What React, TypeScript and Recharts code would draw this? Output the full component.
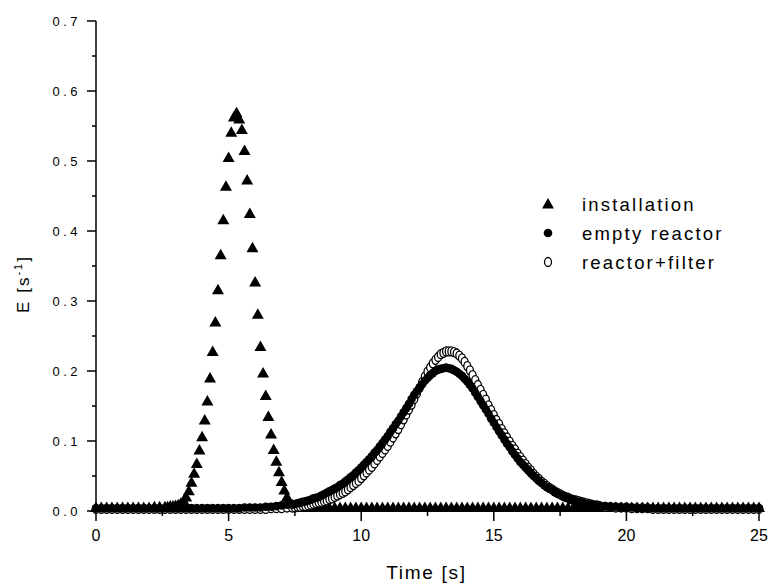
import { Legend, Scatter, ScatterChart, XAxis, YAxis } from "recharts";

// time grids (s)
const installationTime = [
  0, 0.2, 0.4, 0.6, 0.8, 1.0, 1.2, 1.4, 1.6, 1.8, 2.0, 2.2, 2.4, 2.6,
  2.7, 2.8, 2.9, 3.0, 3.1, 3.2, 3.3, 3.4, 3.5, 3.6, 3.7, 3.8, 3.9,
  4.0, 4.1, 4.2, 4.3, 4.4, 4.5, 4.6, 4.7, 4.8, 4.9,
  5.0, 5.1, 5.2, 5.3, 5.4, 5.5, 5.6, 5.7, 5.8, 5.9,
  6.0, 6.1, 6.2, 6.3, 6.4, 6.5, 6.6, 6.7, 6.8, 6.9,
  7.0, 7.1, 7.2, 7.3, 7.4, 7.5, 7.6,
  7.8, 8.0, 8.2, 8.4, 8.6, 8.8, 9.0, 9.2, 9.4, 9.6, 9.8,
  10.0, 10.2, 10.4, 10.6, 10.8, 11.0, 11.2, 11.4, 11.6, 11.8,
  12.0, 12.2, 12.4, 12.6, 12.8, 13.0, 13.2, 13.4, 13.6, 13.8,
  14.0, 14.2, 14.4, 14.6, 14.8, 15.0, 15.2, 15.4, 15.6, 15.8,
  16.0, 16.2, 16.4, 16.6, 16.8, 17.0, 17.2, 17.4, 17.6, 17.8,
  18.0, 18.2, 18.4, 18.6, 18.8, 19.0, 19.2, 19.4, 19.6, 19.8,
  20.0, 20.2, 20.4, 20.6, 20.8, 21.0, 21.2, 21.4, 21.6, 21.8,
  22.0, 22.2, 22.4, 22.6, 22.8, 23.0, 23.2, 23.4, 23.6, 23.8,
  24.0, 24.2, 24.4, 24.6, 24.8, 25.0,
];

const installationE = [
  0.005, 0.005, 0.005, 0.005, 0.005, 0.005, 0.005, 0.005, 0.005, 0.005, 0.005, 0.006, 0.006, 0.006,
  0.006, 0.007, 0.007, 0.008, 0.009, 0.011, 0.015, 0.020, 0.029, 0.041, 0.054, 0.068, 0.087,
  0.106, 0.130, 0.157, 0.190, 0.228, 0.270, 0.316, 0.366, 0.416, 0.464,
  0.505, 0.541, 0.563, 0.569, 0.560, 0.545, 0.515, 0.473, 0.425, 0.376,
  0.327, 0.281, 0.235, 0.197, 0.165, 0.135, 0.110, 0.088, 0.071, 0.056,
  0.042, 0.030, 0.020, 0.013, 0.009, 0.007, 0.006,
  0.005, 0.005, 0.005, 0.005, 0.005, 0.005, 0.005, 0.005, 0.005, 0.005, 0.005,
  0.005, 0.005, 0.005, 0.005, 0.005, 0.005, 0.005, 0.005, 0.005, 0.005,
  0.005, 0.005, 0.005, 0.005, 0.005, 0.005, 0.005, 0.005, 0.005, 0.005,
  0.005, 0.005, 0.005, 0.005, 0.005, 0.005, 0.005, 0.005, 0.005, 0.005,
  0.005, 0.005, 0.005, 0.005, 0.005, 0.005, 0.005, 0.005, 0.005, 0.005,
  0.005, 0.005, 0.005, 0.005, 0.005, 0.005, 0.005, 0.005, 0.005, 0.005,
  0.005, 0.005, 0.005, 0.005, 0.005, 0.005, 0.005, 0.005, 0.005, 0.005,
  0.005, 0.005, 0.005, 0.005, 0.005, 0.005, 0.005, 0.005, 0.005, 0.005,
  0.005, 0.005, 0.005, 0.005, 0.005, 0.005,
];

const reactorTime = [
  0, 0.2, 0.4, 0.6, 0.8, 1.0, 1.2, 1.4, 1.6, 1.8, 2.0, 2.2, 2.4, 2.6, 2.8,
  3.0, 3.2, 3.4, 3.6, 3.8, 4.0, 4.2, 4.4, 4.6, 4.8, 5.0, 5.2, 5.4,
  5.6, 5.8, 6.0, 6.2, 6.4, 6.6, 6.8, 7.0, 7.2, 7.4,
  7.5, 7.6, 7.7, 7.8, 7.9,
  8.0, 8.1, 8.2, 8.3, 8.4, 8.5, 8.6, 8.7, 8.8, 8.9,
  9.0, 9.1, 9.2, 9.3, 9.4, 9.5, 9.6, 9.7, 9.8, 9.9,
  10.0, 10.1, 10.2, 10.3, 10.4, 10.5, 10.6, 10.7, 10.8, 10.9,
  11.0, 11.1, 11.2, 11.3, 11.4, 11.5, 11.6, 11.7, 11.8, 11.9,
  12.0, 12.1, 12.2, 12.3, 12.4, 12.5, 12.6, 12.7, 12.8, 12.9,
  13.0, 13.1, 13.2, 13.3, 13.4, 13.5, 13.6, 13.7, 13.8, 13.9,
  14.0, 14.1, 14.2, 14.3, 14.4, 14.5, 14.6, 14.7, 14.8, 14.9,
  15.0, 15.1, 15.2, 15.3, 15.4, 15.5, 15.6, 15.7, 15.8, 15.9,
  16.0, 16.1, 16.2, 16.3, 16.4, 16.5, 16.6, 16.7, 16.8, 16.9,
  17.0, 17.1, 17.2, 17.3, 17.4, 17.5, 17.6, 17.7, 17.8, 17.9,
  18.0, 18.1, 18.2, 18.3, 18.4, 18.5, 18.6, 18.7, 18.8, 18.9,
  19.0,
  19.2, 19.4, 19.6, 19.8, 20.0, 20.2, 20.4, 20.6, 20.8, 21.0,
  21.2, 21.4, 21.6, 21.8, 22.0, 22.2, 22.4, 22.6, 22.8, 23.0,
  23.2, 23.4, 23.6, 23.8, 24.0, 24.2, 24.4, 24.6, 24.8, 25.0,
];

const emptyReactorE = [
  0.004, 0.004, 0.004, 0.004, 0.004, 0.004, 0.004, 0.004, 0.004, 0.004, 0.004, 0.004, 0.004, 0.004, 0.004,
  0.004, 0.004, 0.004, 0.004, 0.004, 0.004, 0.004, 0.004, 0.004, 0.004, 0.004, 0.004, 0.004,
  0.005, 0.005, 0.005, 0.005, 0.006, 0.006, 0.007, 0.008, 0.009, 0.009,
  0.010, 0.011, 0.012, 0.013, 0.014,
  0.015, 0.016, 0.018, 0.019, 0.020, 0.022, 0.024, 0.026, 0.028, 0.030,
  0.032, 0.034, 0.037, 0.039, 0.042, 0.045, 0.048, 0.051, 0.055, 0.058,
  0.062, 0.066, 0.070, 0.074, 0.078, 0.083, 0.087, 0.092, 0.097, 0.102,
  0.107, 0.113, 0.118, 0.124, 0.129, 0.135, 0.141, 0.147, 0.153, 0.160,
  0.166, 0.171, 0.176, 0.181, 0.186, 0.190, 0.194, 0.197, 0.200, 0.202,
  0.203, 0.204, 0.205, 0.204, 0.203, 0.201, 0.199, 0.196, 0.193, 0.189,
  0.185, 0.180, 0.175, 0.169, 0.163, 0.157, 0.151, 0.145, 0.139, 0.132,
  0.126, 0.120, 0.114, 0.108, 0.102, 0.096, 0.091, 0.085, 0.080, 0.075,
  0.070, 0.066, 0.062, 0.058, 0.054, 0.050, 0.047, 0.043, 0.040, 0.037,
  0.034, 0.032, 0.030, 0.027, 0.025, 0.023, 0.021, 0.020, 0.018, 0.017,
  0.015, 0.014, 0.013, 0.012, 0.011, 0.010, 0.009, 0.009, 0.008, 0.008,
  0.007,
  0.007, 0.006, 0.006, 0.005, 0.005, 0.005, 0.004, 0.004, 0.004, 0.004,
  0.004, 0.004, 0.004, 0.004, 0.004, 0.004, 0.004, 0.004, 0.004, 0.004,
  0.004, 0.004, 0.004, 0.004, 0.004, 0.004, 0.004, 0.004, 0.004, 0.004,
];

const reactorFilterE = [
  0.003, 0.003, 0.003, 0.003, 0.003, 0.003, 0.003, 0.003, 0.003, 0.003, 0.003, 0.003, 0.003, 0.003, 0.003,
  0.003, 0.003, 0.003, 0.003, 0.003, 0.003, 0.003, 0.003, 0.003, 0.003, 0.003, 0.003, 0.003,
  0.003, 0.003, 0.003, 0.003, 0.003, 0.004, 0.004, 0.004, 0.005, 0.005,
  0.005, 0.006, 0.006, 0.007, 0.007,
  0.008, 0.009, 0.010, 0.011, 0.012, 0.013, 0.014, 0.015, 0.017, 0.018,
  0.020, 0.022, 0.024, 0.026, 0.028, 0.031, 0.034, 0.037, 0.040, 0.043,
  0.047, 0.051, 0.055, 0.059, 0.063, 0.068, 0.073, 0.078, 0.083, 0.088,
  0.093, 0.099, 0.105, 0.111, 0.117, 0.124, 0.131, 0.138, 0.145, 0.152,
  0.160, 0.168, 0.176, 0.184, 0.192, 0.199, 0.205, 0.211, 0.216, 0.220,
  0.224, 0.226, 0.228, 0.228, 0.228, 0.227, 0.225, 0.222, 0.218, 0.213,
  0.207, 0.201, 0.194, 0.187, 0.180, 0.173, 0.166, 0.159, 0.151, 0.144,
  0.137, 0.130, 0.124, 0.117, 0.111, 0.105, 0.099, 0.093, 0.088, 0.082,
  0.077, 0.072, 0.067, 0.062, 0.058, 0.053, 0.049, 0.046, 0.042, 0.039,
  0.036, 0.033, 0.031, 0.028, 0.026, 0.024, 0.022, 0.020, 0.019, 0.017,
  0.016, 0.015, 0.014, 0.013, 0.012, 0.011, 0.010, 0.009, 0.008, 0.008,
  0.007,
  0.006, 0.006, 0.005, 0.005, 0.005, 0.004, 0.004, 0.004, 0.004, 0.003,
  0.003, 0.003, 0.003, 0.003, 0.003, 0.003, 0.003, 0.003, 0.003, 0.003,
  0.003, 0.003, 0.003, 0.003, 0.003, 0.003, 0.003, 0.003, 0.003, 0.003,
];

const xTicks = [0, 2.5, 5, 7.5, 10, 12.5, 15, 17.5, 20, 22.5, 25];
const yTicks = [0, 0.05, 0.1, 0.15, 0.2, 0.25, 0.3, 0.35, 0.4, 0.45, 0.5, 0.55, 0.6, 0.65, 0.7];

const seriesNames = ["installation", "empty reactor", "reactor+filter"];

const FONT = "'Liberation Sans', Arial, sans-serif";

const toPoints = (xs: number[], ys: number[]) => xs.map((x, i) => ({ x, y: ys[i] }));

function TriangleMark({ cx, cy }: { cx: number; cy: number }) {
  return <path d={`M${cx},${cy - 6} L${cx + 6},${cy + 4.5} L${cx - 6},${cy + 4.5} Z`} fill="#000" />;
}

function DotMark({ cx, cy }: { cx: number; cy: number }) {
  return <circle cx={cx} cy={cy} r={4.3} fill="#000" />;
}

function OpenMark({ cx, cy }: { cx: number; cy: number }) {
  return <ellipse cx={cx} cy={cy} rx={3.5} ry={4.5} fill="#fff" stroke="#000" strokeWidth={1.3} />;
}

function XTick(props: any) {
  const { x, y, payload } = props;
  const v = payload.value as number;
  const major = v % 5 === 0;
  return (
    <g>
      <line x1={x} y1={y} x2={x} y2={y + (major ? 10 : 5)} stroke="#000" strokeWidth={1.5} />
      {major && (
        <text x={x} y={y + 30} textAnchor="middle" fontSize={16} fontFamily={FONT} fill="#000">
          {v}
        </text>
      )}
    </g>
  );
}

function YTick(props: any) {
  const { x, y, payload } = props;
  const v = payload.value as number;
  const major = Math.abs(v * 10 - Math.round(v * 10)) < 1e-6;
  return (
    <g>
      <line x1={x - (major ? 9 : 4)} y1={y} x2={x} y2={y} stroke="#000" strokeWidth={1.5} />
      {major && (
        <text x={x - 15} y={y + 4.5} textAnchor="end" fontSize={13} letterSpacing={3.5} fontFamily={FONT} fill="#000">
          {v.toFixed(1)}
        </text>
      )}
    </g>
  );
}

function LegendBox() {
  const rows = [16, 45, 74];
  const marks = [TriangleMark, DotMark, OpenMark];
  return (
    <svg width={200} height={90}>
      {seriesNames.map((name, i) => {
        const Mark = marks[i];
        return (
          <g key={name}>
            <Mark cx={18} cy={rows[i]} />
            <text x={52} y={rows[i] + 7} fontSize={18.5} letterSpacing={2.2} fontFamily={FONT} fill="#000">
              {name}
            </text>
          </g>
        );
      })}
    </svg>
  );
}

export default function App() {
  return (
    <div style={{ position: "absolute", left: 0, top: 0, width: 770, height: 584, background: "#fff" }}>
      <ScatterChart width={770} height={584} margin={{ top: 21, right: 11, bottom: 0, left: 0 }}>
        <XAxis
          type="number"
          dataKey="x"
          domain={[0, 25]}
          ticks={xTicks}
          interval={0}
          height={73}
          tickSize={0}
          tickMargin={0}
          tickLine={false}
          tick={XTick}
          axisLine={{ stroke: "#000", strokeWidth: 1.5 }}
          label={{
            content: () => (
              <text x={426.5} y={579} textAnchor="middle" fontSize={19} letterSpacing={1.7} fontFamily={FONT} fill="#000">
                Time [s]
              </text>
            ),
          }}
        />
        <YAxis
          type="number"
          dataKey="y"
          domain={[0, 0.7]}
          ticks={yTicks}
          interval={0}
          width={96}
          tickSize={0}
          tickMargin={0}
          tickLine={false}
          tick={YTick}
          axisLine={{ stroke: "#000", strokeWidth: 1.5 }}
          label={{
            content: () => (
              <text transform="translate(29,284) rotate(-90)" textAnchor="middle" fontSize={17} letterSpacing={2} fontFamily={FONT} fill="#000">
                E [s
                <tspan dy={-7} fontSize={11}>
                  -1
                </tspan>
                <tspan dy={7}>]</tspan>
              </text>
            ),
          }}
        />
        <Legend
          layout="vertical"
          align="center"
          verticalAlign="middle"
          content={LegendBox}
          wrapperStyle={{ position: "absolute", left: 530, top: 188, width: 200, height: 90 }}
        />
        <Scatter
          name={seriesNames[0]}
          data={toPoints(installationTime, installationE)}
          isAnimationActive={false}
          shape={(p: any) => <TriangleMark cx={p.cx} cy={p.cy} />}
        />
        <Scatter
          name={seriesNames[2]}
          data={toPoints(reactorTime, reactorFilterE)}
          isAnimationActive={false}
          shape={(p: any) => <OpenMark cx={p.cx} cy={p.cy} />}
        />
        <Scatter
          name={seriesNames[1]}
          data={toPoints(reactorTime, emptyReactorE)}
          isAnimationActive={false}
          shape={(p: any) => <DotMark cx={p.cx} cy={p.cy} />}
        />
      </ScatterChart>
    </div>
  );
}
